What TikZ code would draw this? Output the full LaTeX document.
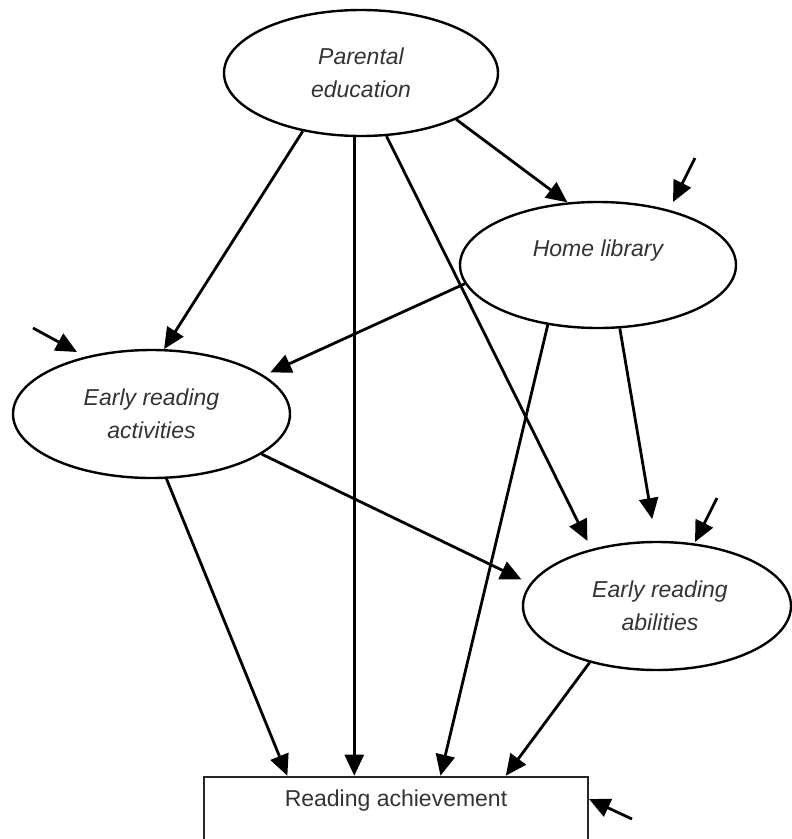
\documentclass[tikz,border=0pt]{standalone}
\usepackage{fontspec}
\setmainfont{Liberation Sans}
\usetikzlibrary{shapes.geometric,arrows.meta,calc}
\begin{document}
\begin{tikzpicture}[x=1pt,y=-1pt,
  latent/.style={ellipse,draw=black,line width=2.4pt,inner sep=0pt},
  lbl/.style={align=center,text=black!80,inner sep=0pt,font=\fontsize{23}{33}\selectfont\itshape},
  obstext/.style={align=center,text=black!80,inner sep=0pt,font=\fontsize{23}{33}\selectfont},
  obsbox/.style={rectangle,draw=black!85,line width=2.6pt,inner sep=0pt},
  arr/.style={line width=2.8pt,-{Triangle[length=21pt,width=19pt]}},
]
\useasboundingbox (0,0) rectangle (792,839);
\clip (0,0) rectangle (792,839);

% nodes
\node[latent,minimum width=274pt,minimum height=126pt] (pe) at (361,73) {};
\node[lbl] (pet) at (361,73) {Parental\\education};

\node[latent,minimum width=276pt,minimum height=126pt] (hl) at (598,265) {};
\node[lbl] (hlt) at (598,251) {Home library};

\node[latent,minimum width=277pt,minimum height=128pt] (era) at (151.5,414) {};
\node[lbl] (erat) at (151.5,414) {Early reading\\activities};

\node[latent,minimum width=268pt,minimum height=128pt] (erab) at (657,606) {};
\node[lbl] (erabt) at (660,606) {Early reading\\abilities};

\node[obsbox,minimum width=384pt,minimum height=68pt] (ra) at (396,811) {};
\node[obstext] (rat) at (396,801) {Reading achievement};

% structural paths
\draw[arr] (pe.225) -- (era.79.8);
\draw[arr] (pe.264) -- (pe.264 |- ra.north);
\draw[arr,shorten >=9pt] (pe.292) -- (erab.139.7);
\draw[arr] (pe.334) -- (hl.116);

\draw[arr,shorten >=7pt] (hl.188.4) -- (era.19.6);
\draw[arr] (hl.230.6) -- ($(ra.north west)!0.615!(ra.north east)$);
\draw[arr,shorten >=22pt] (hl.289.3) -- (erab.91);

\draw[arr] (era.283.6) -- ($(ra.north west)!0.219!(ra.north east)$);
\draw[arr,shorten >=9.5pt] (era.340.7) -- (erab.170.1);

\draw[arr] (erab.220.7) -- ($(ra.north west)!0.784!(ra.north east)$);

% residual (error) arrows
\coordinate (ehl0) at (695,158);  \coordinate (ehl1) at (673,202);
\coordinate (eera0) at (33,328);  \coordinate (eera1) at (77,352);
\coordinate (eerab0) at (717,498); \coordinate (eerab1) at (695,542);
\coordinate (era0) at (632,819);  \coordinate (era1) at (589,799);
\draw[arr] (ehl0) -- (ehl1);
\draw[arr] (eera0) -- (eera1);
\draw[arr] (eerab0) -- (eerab1);
\draw[arr] (era0) -- (era1);
\end{tikzpicture}
\end{document}
